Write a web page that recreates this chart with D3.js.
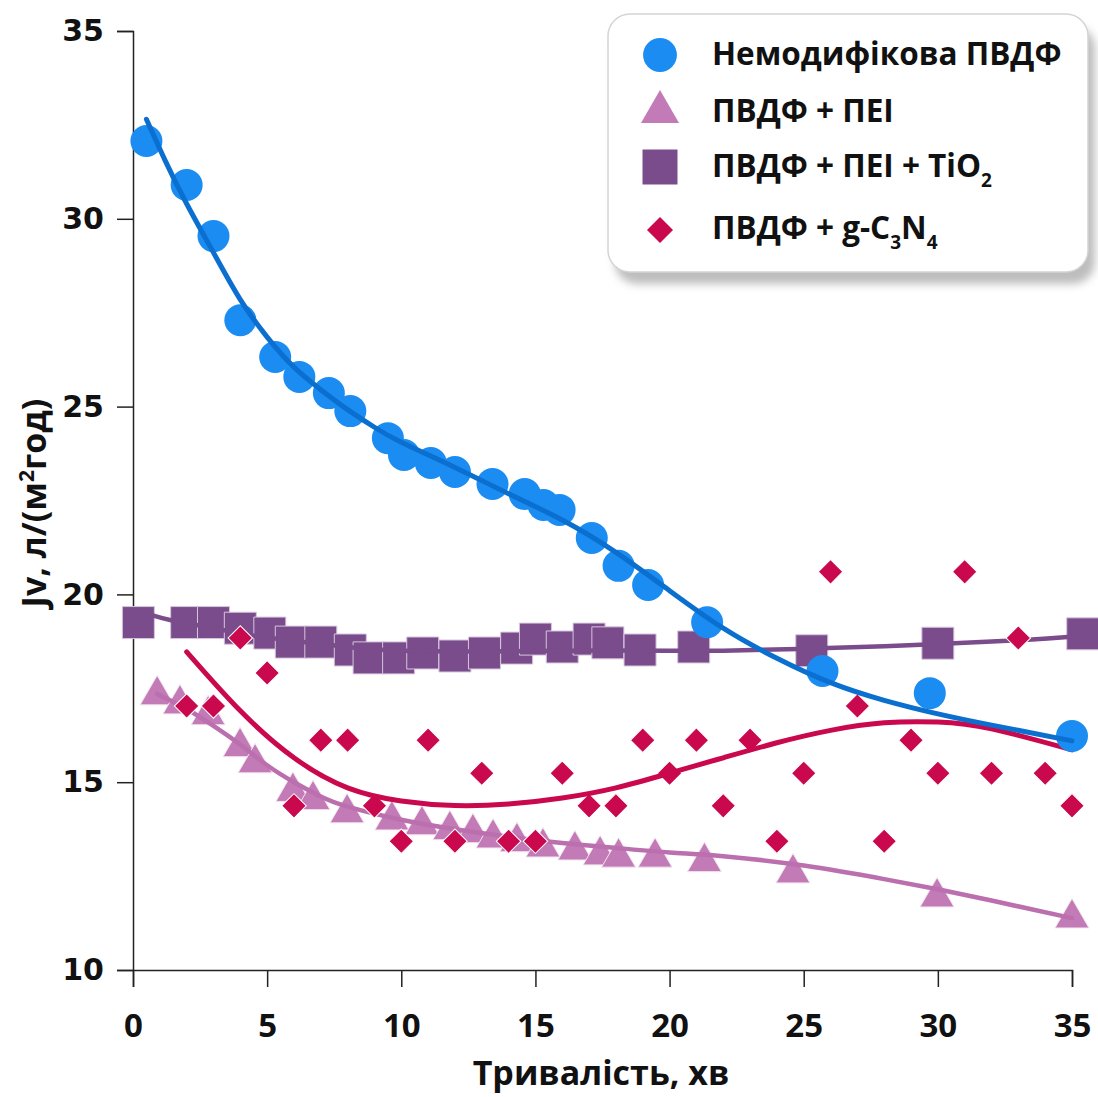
<!DOCTYPE html>
<html>
<head>
<meta charset="utf-8">
<script src="https://cdn.jsdelivr.net/npm/d3@7"></script>
<style>
  html, body { margin: 0; padding: 0; background: #fff; }
  svg { display: block; }
</style>
</head>
<body>
<svg id="chart" width="1098" height="1097"></svg>
<script>
// ---------- DATA ----------
const xTicks = [0, 5, 10, 15, 20, 25, 30, 35];
const yTicks = [10, 15, 20, 25, 30, 35];

const seriesNames = ["Немодифікова ПВДФ", "ПВДФ + ПЕІ", "ПВДФ + ПЕІ + TiO", "ПВДФ + g-C"];

// Немодифікова ПВДФ (circles)
const blueX = [0.5, 2.0, 3.0, 4.0, 5.3, 6.2, 7.3, 8.1, 9.5, 10.1, 11.1, 12.0, 13.4, 14.6, 15.3, 15.9, 17.1, 18.1, 19.2, 21.4, 25.7, 29.7, 35.0];
const blueY = [32.07, 30.9, 29.54, 27.3, 26.32, 25.79, 25.36, 24.88, 24.16, 23.71, 23.5, 23.26, 22.94, 22.67, 22.38, 22.25, 21.5, 20.76, 20.25, 19.26, 17.96, 17.37, 16.23];
const blueFitX = [0.5, 1.2, 2, 3, 4, 5, 6, 7, 8, 9, 10, 12, 14, 16, 18, 20, 22, 24, 26, 28, 30, 32, 35];
const blueFitY = [32.65, 31.55, 30.4, 29.1, 27.85, 26.85, 26.05, 25.45, 24.92, 24.45, 24.05, 23.38, 22.68, 21.98, 21.12, 20.1, 19.1, 18.3, 17.65, 17.18, 16.82, 16.52, 16.1];

// ПВДФ + ПЕІ (triangles)
const pinkX = [0.9, 1.75, 2.8, 3.99, 4.55, 5.96, 6.71, 7.98, 9.65, 10.77, 11.81, 12.67, 13.42, 14.31, 15.28, 16.47, 17.41, 18.1, 19.46, 21.3, 24.6, 29.97, 35.0];
const pinkY = [17.32, 17.08, 16.79, 15.94, 15.51, 14.75, 14.53, 14.18, 13.99, 13.86, 13.73, 13.65, 13.51, 13.41, 13.27, 13.19, 13.06, 13.0, 13.0, 12.88, 12.58, 11.94, 11.38];
const pinkFitX = [0.9, 2, 3, 4, 5, 6, 7, 8, 10, 12, 14, 16, 18, 20, 22, 25, 28, 30, 32, 35];
const pinkFitY = [17.35, 16.95, 16.5, 16.0, 15.45, 15.0, 14.62, 14.35, 14.0, 13.75, 13.55, 13.38, 13.25, 13.13, 13.03, 12.78, 12.42, 12.15, 11.85, 11.38];

// ПВДФ + ПЕІ + TiO2 (squares)
const sqX = [0.2, 2.0, 3.0, 4.0, 5.1, 5.9, 7.0, 8.1, 8.8, 9.9, 10.8, 12.0, 13.1, 14.3, 15.0, 16.0, 17.0, 17.7, 18.9, 20.9, 25.3, 30.0, 35.4];
const sqY = [19.25, 19.25, 19.25, 19.1, 18.97, 18.73, 18.73, 18.52, 18.31, 18.31, 18.44, 18.36, 18.44, 18.57, 18.81, 18.6, 18.81, 18.71, 18.52, 18.6, 18.5, 18.7, 18.95];
const sqFitX = [0.7, 1.5, 3, 5, 8, 10, 13, 16, 20, 22, 25, 28, 30, 33, 35.4];
const sqFitY = [19.45, 19.3, 19.1, 18.85, 18.6, 18.5, 18.48, 18.5, 18.5, 18.5, 18.55, 18.62, 18.68, 18.78, 18.9];

// ПВДФ + g-C3N4 (diamonds)
const redX = [2, 3, 4, 5, 6, 7, 8, 9, 10, 11, 12, 13, 14, 15, 16, 17, 18, 19, 20, 21, 22, 23, 24, 25, 26, 27, 28, 29, 30, 31, 32, 33, 34, 35];
const redY = [17.03, 17.03, 18.84, 17.91, 14.37, 16.12, 16.12, 14.37, 13.43, 16.12, 13.43, 15.24, 13.43, 13.43, 15.24, 14.37, 14.37, 16.12, 15.24, 16.12, 14.37, 16.12, 13.43, 15.24, 20.6, 17.03, 13.43, 16.12, 15.24, 20.6, 15.24, 18.84, 15.24, 14.37];
const redFitX = [2, 4, 6, 8, 10, 12, 14, 16, 18, 20, 22, 24, 26, 28, 30, 32, 35];
const redFitY = [18.47, 16.9, 15.65, 14.85, 14.5, 14.38, 14.42, 14.58, 14.85, 15.24, 15.65, 16.05, 16.38, 16.58, 16.6, 16.42, 15.86];

// ---------- CHART ----------
const svg = d3.select("#chart");
const x = d3.scaleLinear().domain([0, 35]).range([133, 1072]);
const y = d3.scaleLinear().domain([10, 35]).range([970, 31]);

const C = {
  blue: "#1a8cf2", blueLine: "#0b6fcf",
  pink: "#c27bb6", pinkLine: "#bb6fae",
  purple: "#7a4c8c", purpleLine: "#7a4c8c",
  red: "#c9084d", redLine: "#c9084d"
};

const defs = svg.append("defs");
defs.append("filter").attr("id", "blur").attr("x", "-10%").attr("y", "-10%").attr("width", "130%").attr("height", "130%")
  .append("feGaussianBlur").attr("stdDeviation", 4);

// axes
const yAxis = d3.axisLeft(y).tickValues(yTicks).tickSize(16).tickPadding(13);
const xAxis = d3.axisBottom(x).tickValues(xTicks).tickSize(17).tickPadding(27);

const gy = svg.append("g").attr("transform", `translate(${x(0)},0)`).call(yAxis);
gy.selectAll("text").attr("font-family", "DejaVu Sans").attr("font-weight", "bold").attr("font-size", 30).attr("fill", "#111");
const gx = svg.append("g").attr("transform", `translate(0,${y(10)})`).call(xAxis);
gx.selectAll("text").attr("font-family", "Open Sans").attr("font-weight", "bold").attr("font-size", 33).attr("fill", "#111");
svg.selectAll(".domain, .tick line").attr("stroke", "#222").attr("stroke-width", 1.5);

// axis titles
svg.append("text").attr("x", 601).attr("y", 1085).attr("text-anchor", "middle")
  .attr("font-family", "Open Sans").attr("font-weight", "bold").attr("font-size", 34).attr("fill", "#111")
  .text("Тривалість, хв");
const yt = svg.append("text").attr("transform", "translate(46,503) rotate(-90)").attr("text-anchor", "middle")
  .attr("font-family", "Open Sans").attr("font-weight", "bold").attr("font-size", 34).attr("fill", "#111");
yt.append("tspan").text("Jv, л/(м");
yt.append("tspan").attr("font-size", 21).attr("dy", -12).text("2");
yt.append("tspan").attr("dy", 12).text("год)");

const zip = (a, b) => a.map((v, i) => [v, b[i]]);
const line = d3.line().x(d => x(d[0])).y(d => y(d[1])).curve(d3.curveNatural);

function drawSeries(xs, ys, fx, fy, sym, size, color, lineColor, lw, rot, stroke) {
  const g = svg.append("g");
  g.selectAll("path.pt").data(zip(xs, ys)).join("path").attr("class", "pt")
    .attr("d", d3.symbol().type(sym).size(size)())
    .attr("transform", d => `translate(${x(d[0])},${y(d[1])}) rotate(${rot})`)
    .attr("fill", color).attr("stroke", stroke).attr("stroke-width", 1);
  g.append("path").datum(zip(fx, fy)).attr("d", line)
    .attr("fill", "none").attr("stroke", lineColor).attr("stroke-width", lw).attr("stroke-linecap", "round");
}

drawSeries(pinkX, pinkY, pinkFitX, pinkFitY, d3.symbolTriangle, 500, C.pink, C.pinkLine, 4.5, 0, "#f3e4f0");
drawSeries(sqX, sqY, sqFitX, sqFitY, d3.symbolSquare, 1024, C.purple, C.purpleLine, 4.5, 0, "#d6c6dd");
drawSeries(redX, redY, redFitX, redFitY, d3.symbolSquare, 300, C.red, C.redLine, 5, 45, "#fff");
drawSeries(blueX, blueY, blueFitX, blueFitY, d3.symbolCircle, 804, C.blue, C.blueLine, 5, 0, "none");

// legend
const lg = svg.append("g");
lg.append("rect").attr("x", 615).attr("y", 26).attr("width", 480).attr("height", 258).attr("rx", 22)
  .attr("fill", "#bdbdbd").attr("filter", "url(#blur)");
lg.append("rect").attr("x", 608).attr("y", 14).attr("width", 480).attr("height", 258).attr("rx", 22)
  .attr("fill", "#fff").attr("stroke", "#d4d4d4").attr("stroke-width", 1.5);

const legItems = [
  { sym: d3.symbolCircle, size: 900, color: C.blue, rot: 0, cy: 55, base: 65, text: seriesNames[0], sub: null },
  { sym: d3.symbolTriangle, size: 625, color: C.pink, rot: 0, cy: 112, base: 122, text: seriesNames[1], sub: null },
  { sym: d3.symbolSquare, size: 1225, color: C.purple, rot: 0, cy: 167, base: 177, text: seriesNames[2], sub: ["2"] },
  { sym: d3.symbolSquare, size: 338, color: C.red, rot: 45, cy: 230, base: 239, text: seriesNames[3], sub: ["3", "N", "4"] }
];
legItems.forEach(it => {
  lg.append("path").attr("d", d3.symbol().type(it.sym).size(it.size)())
    .attr("transform", `translate(660,${it.cy}) rotate(${it.rot})`).attr("fill", it.color);
  const t = lg.append("text").attr("x", 712).attr("y", it.base)
    .attr("font-family", "Open Sans").attr("font-weight", "bold").attr("font-size", 31.5).attr("fill", "#111");
  t.append("tspan").text(it.text);
  if (it.sub && it.sub.length === 1) {
    t.append("tspan").attr("font-size", 19).attr("dy", 10).text(it.sub[0]);
  } else if (it.sub) {
    t.append("tspan").attr("font-size", 19).attr("dy", 10).text(it.sub[0]);
    t.append("tspan").attr("dy", -10).text(it.sub[1]);
    t.append("tspan").attr("font-size", 19).attr("dy", 10).text(it.sub[2]);
  }
});
</script>
</body>
</html>
